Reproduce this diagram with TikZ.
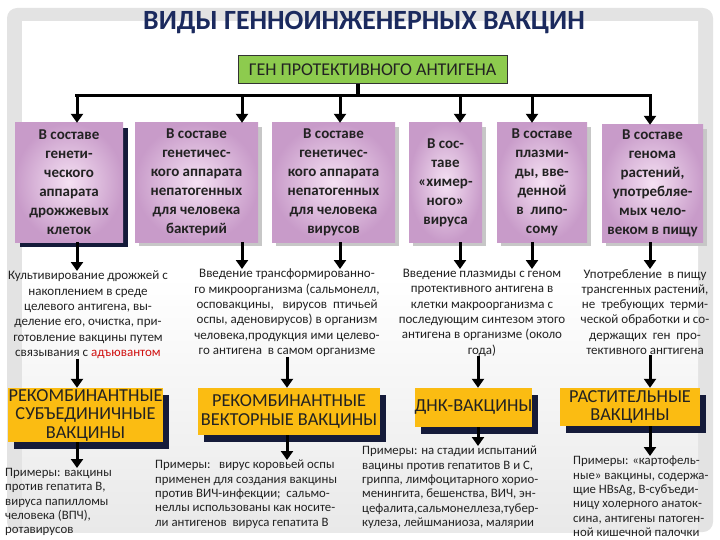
\documentclass[tikz,border=0pt]{standalone}
\usepackage{fontspec}
\setmainfont{Carlito}
\usetikzlibrary{arrows.meta,shadows}
\definecolor{navy}{HTML}{1B2A5E}
\definecolor{shadownavy}{HTML}{151B3A}
\definecolor{hdrgreen}{HTML}{8DCB4E}
\definecolor{pinkin}{HTML}{F5E1F3}
\definecolor{pinkout}{HTML}{C89BC9}
\definecolor{gold}{HTML}{FBBC12}
\definecolor{txt}{HTML}{222222}
\definecolor{redtxt}{HTML}{D01010}
\definecolor{frame}{HTML}{E3E3E3}
\definecolor{panelbot}{HTML}{E9E9E9}
\begin{document}
\begin{tikzpicture}[x=1pt,y=-1pt,
  arr/.style={line width=3pt,-{Triangle[width=12pt,length=9pt]}},
  barline/.style={line width=3.5pt},
  pbox/.style={shade,inner color=pinkin,outer color=pinkout,inner sep=0pt,
    align=center,text=txt,font=\fontsize{15}{19}\selectfont\bfseries,
    minimum height=119pt},
  lightshadow/.style={drop shadow={shadow xshift=4pt,shadow yshift=-4pt,fill=black!22,opacity=1}},
  darkshadow/.style={drop shadow={shadow xshift=5pt,shadow yshift=-5pt,fill=shadownavy,opacity=1}},
  obox/.style={fill=gold,inner sep=0pt,align=center,text=txt,
    font=\fontsize{18.3}{18.5}\selectfont,
    drop shadow={shadow xshift=6pt,shadow yshift=-7pt,fill=shadownavy,opacity=1}},
  desc/.style={inner sep=0pt,align=center,text=txt,font=\fontsize{13}{15.3}\selectfont,anchor=north},
  expl/.style={inner sep=0pt,align=left,text=txt,font=\fontsize{12.8}{14.3}\selectfont,anchor=north west}]
\useasboundingbox (0,0) rectangle (720,540);
% background frame
\fill[frame,rounded corners=10pt] (7,8) rectangle (713,532);
\shade[top color=white,bottom color=panelbot,middle color=white] (22,22) rectangle (698,532);

% title
\node[text=navy,font=\fontsize{27.8}{32}\selectfont\bfseries] (title) at (364,23) {ВИДЫ ГЕННОИНЖЕНЕРНЫХ ВАКЦИН};

% header box
\node[draw=black!80,line width=0.8pt,fill=hdrgreen,minimum width=269pt,minimum height=28pt,inner sep=0pt,
  font=\fontsize{18}{20}\selectfont,text=txt] (G) at (372.5,69.5) {ГЕН ПРОТЕКТИВНОГО АНТИГЕНА};

% column coordinates
\coordinate (bar) at (358,95.5);
\coordinate (a1) at (77,0);
\coordinate (a2) at (242,0);
\coordinate (a3) at (340,0);
\coordinate (a4) at (460,0);
\coordinate (a5) at (532,0);
\coordinate (a6) at (650,0);
\coordinate (b2) at (287,0);
\coordinate (b3) at (478,0);

% purple boxes
\node[pbox,darkshadow,minimum width=108pt] (P1) at (69,182.5) {В составе\\генети-\\ческого\\аппарата\\дрожжевых\\клеток};
\node[pbox,lightshadow,minimum width=123pt] (P2) at (196.5,182.5) {В составе\\генетичес-\\кого аппарата\\непатогенных\\для человека\\бактерий};
\node[pbox,lightshadow,minimum width=123pt] (P3) at (333.5,182.5) {В составе\\генетичес-\\кого аппарата\\непатогенных\\для человека\\вирусов};
\node[pbox,lightshadow,minimum width=73pt] (P4) at (445.5,182.5) {В сос-\\таве\\«химер-\\ного»\\вируса};
\node[pbox,lightshadow,minimum width=90pt] (P5) at (542,182.5) {В составе\\плазми-\\ды, вве-\\денной\\в\ \ липо-\\сому};
\node[pbox,lightshadow,minimum width=101pt,minimum height=117pt] (P6) at (652.5,183.5) {В составе\\генома\\растений,\\употребляе-\\мых чело-\\веком в пищу};

% top connectors
\draw[barline] (G.south -| bar) -- (bar);
\draw[barline,line cap=rect] (bar -| a1) -- (bar -| a6);
\foreach \a/\p in {a1/P1,a2/P2,a3/P3,a4/P4,a5/P5,a6/P6}
  \draw[arr] (bar -| \a) -- (\p.north -| \a);

% descriptions
\node[desc] (D1) at (88,271) {Культивирование дрожжей с\\накоплением в среде\\целевого антигена, вы-\\деление его, очистка, при-\\готовление вакцины путем\\связывания с \textcolor{redtxt}{адъювантом}};
\node[desc] (D2) at (287,269) {Введение трансформированно-\\го микроорганизма (сальмонелл,\\осповакцины,\ \ \ вирусов\ \ птичьей\\оспы, аденовирусов) в организм\\человека,продукция ими целево-\\го антигена\ \ в самом организме};
\node[desc] (D3) at (482,269) {Введение плазмиды с геном\\протективного антигена в\\клетки макроорганизма с\\последующим синтезом этого\\антигена в организме (около\\года)};
\node[desc] (D4) at (645,269) {Употребление\ \ в пищу\\трансгенных растений,\\не\ \ требующих\ \ терми-\\ческой обработки и со-\\держащих\ \ ген\ \ про-\\тективного ангтигена};

\draw[arr] (P1.south -| a1) -- (D1.north -| a1);
\draw[arr] (P2.south -| a2) -- (D2.north -| a2);
\draw[arr] (P3.south -| a3) -- (D2.north -| a3);
\draw[arr] (P4.south -| a4) -- (D3.north -| a4);
\draw[arr] (P5.south -| a5) -- (D3.north -| a5);
\draw[arr] (P6.south -| a6) -- (D4.north -| a6);

% orange boxes
\node[obox,minimum width=155pt,minimum height=54pt] (O1) at (85.5,415) {РЕКОМБИНАНТНЫЕ\\СУБЪЕДИНИЧНЫЕ\\ВАКЦИНЫ};
\node[obox,minimum width=182pt,minimum height=47pt] (O2) at (289,411.5) {РЕКОМБИНАНТНЫЕ\\ВЕКТОРНЫЕ ВАКЦИНЫ};
\node[obox,minimum width=117pt,minimum height=39pt] (O3) at (473.5,407.5) {ДНК-ВАКЦИНЫ};
\node[obox,minimum width=140pt,minimum height=38pt] (O4) at (630,407) {РАСТИТЕЛЬНЫЕ\\ВАКЦИНЫ};

\draw[arr] (D1.south -| a1) -- (O1.north -| a1);
\draw[arr] (D2.south -| b2) -- (O2.north -| b2);
\draw[arr] (D3.south -| b3) -- (O3.north -| b3);
\draw[arr] (D4.south -| a6) -- (O4.north -| a6);

% examples
\node[expl] (E1) at (5,468) {Примеры: вакцины\\против гепатита В,\\вируса папилломы\\человека (ВПЧ),\\ротавирусов};
\node[expl] (E2) at (155,460) {Примеры:\ \ \ вирус коровьей оспы\\применен для создания вакцины\\против ВИЧ-инфекции;\ \ сальмо-\\неллы использованы как носите-\\ли антигенов\ \ вируса гепатита В};
\node[expl] (E3) at (362,446) {Примеры: на стадии испытаний\\вацины против гепатитов В и С,\\гриппа, лимфоцитарного хорио-\\менингита, бешенства, ВИЧ, эн-\\цефалита,сальмонеллеза,тубер-\\кулеза, лейшманиоза, малярии};
\node[expl] (E4) at (573,456) {Примеры: «картофель-\\ные» вакцины, содержа-\\щие HBsAg, В-субъеди-\\ницу холерного анаток-\\сина, антигены патоген-\\ной кишечной палочки};

\draw[arr] (O1.south -| a1) -- (E1.north -| a1);
\draw[arr] (O2.south -| b2) -- (E2.north -| b2);
\draw[arr] (O3.south -| b3) -- (E3.north -| b3);
\draw[arr] (O4.south -| a6) -- (E4.north -| a6);
\end{tikzpicture}
\end{document}
